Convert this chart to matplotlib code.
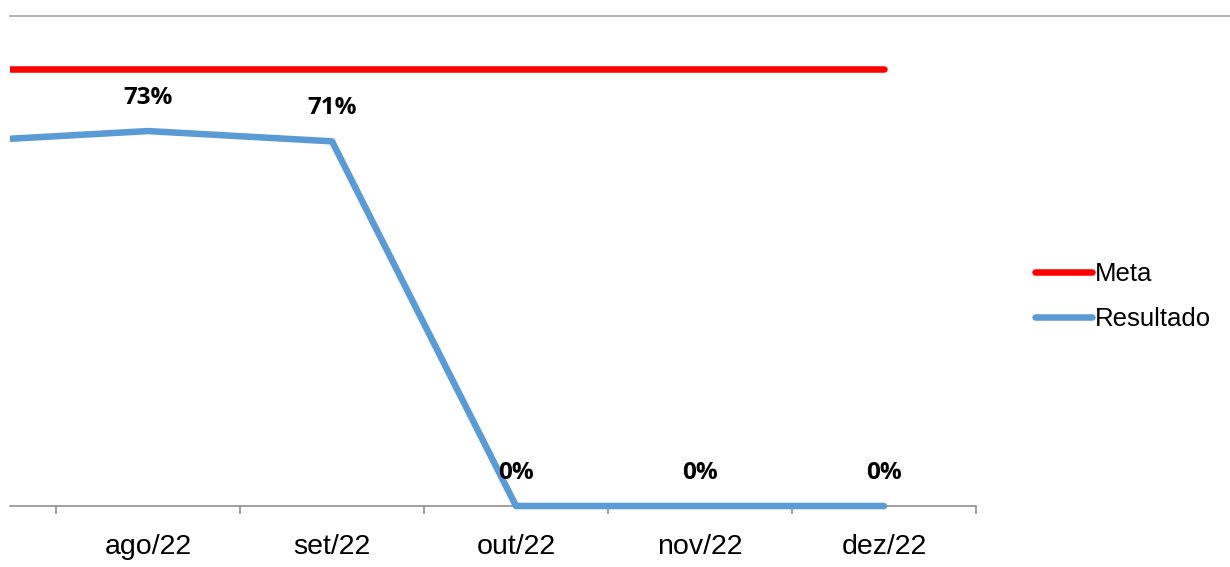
import matplotlib
matplotlib.use("Agg")
import matplotlib.pyplot as plt
from matplotlib.lines import Line2D

# data (jul/22 sits just off the left edge in the original)
months = ['jul/22', 'ago/22', 'set/22', 'out/22', 'nov/22', 'dez/22']
resultado = [71, 73, 71, 0, 0, 0]
meta = [85, 85, 85, 85, 85, 85]

W, H = 1230, 567
fig = plt.figure(figsize=(W / 100, H / 100), dpi=100)

# plot area in pixels: x 10..976, zero line at y=506
ax = fig.add_axes([10 / W, 1 - 506 / H - 6 / H, 966 / W, (506 - 15.5 + 6) / H])
x = list(range(len(months)))

ax.plot(x, meta, color='#FF0000', lw=4.7, solid_capstyle='round', label='Meta', zorder=3)
ax.plot(x, resultado, color='#5B9BD5', lw=4.7, solid_capstyle='round', label='Resultado', zorder=3)

for xi, v in zip(x, resultado):
    ax.annotate(f"{v}%", (xi, v), xytext=(0, 24), textcoords='offset points',
                ha='center', va='center', fontsize=17.5, fontweight='bold',
                family=['Open Sans', 'DejaVu Sans'], annotation_clip=True)

ax.set_xlim(0.25, 5.5)
scale = (506 - 15.5) / 95.5
ax.set_ylim(-6 / scale, 95.5)

for s in ['top', 'left', 'right']:
    ax.spines[s].set_visible(False)
ax.spines['bottom'].set_position(('data', 0))
ax.spines['bottom'].set_color('#868686')
ax.spines['bottom'].set_linewidth(1.1)
ax.set_yticks([])

ax.set_xticks(x[1:])
ax.set_xticklabels(months[1:], fontsize=20.5, family='Liberation Sans')
ax.set_xticks([i + 0.5 for i in range(6)], minor=True)
ax.tick_params(axis='x', which='major', length=0, pad=20)
ax.tick_params(axis='x', which='minor', length=6, width=1.1, color='#868686', direction='out')

# grey line across the top
fig.add_artist(Line2D([10 / W, 1], [1 - 15.5 / H, 1 - 15.5 / H], color='#A6A6A6', lw=1.2))

fig.legend(loc='center left', bbox_to_anchor=(1035 / W, 1 - 296.5 / H), frameon=False,
           borderpad=0, borderaxespad=0, handlelength=2.2, handletextpad=0.12,
           labelspacing=0.85, prop={'family': 'Liberation Sans', 'size': 18.5})

fig.savefig('out.png', dpi=100)
